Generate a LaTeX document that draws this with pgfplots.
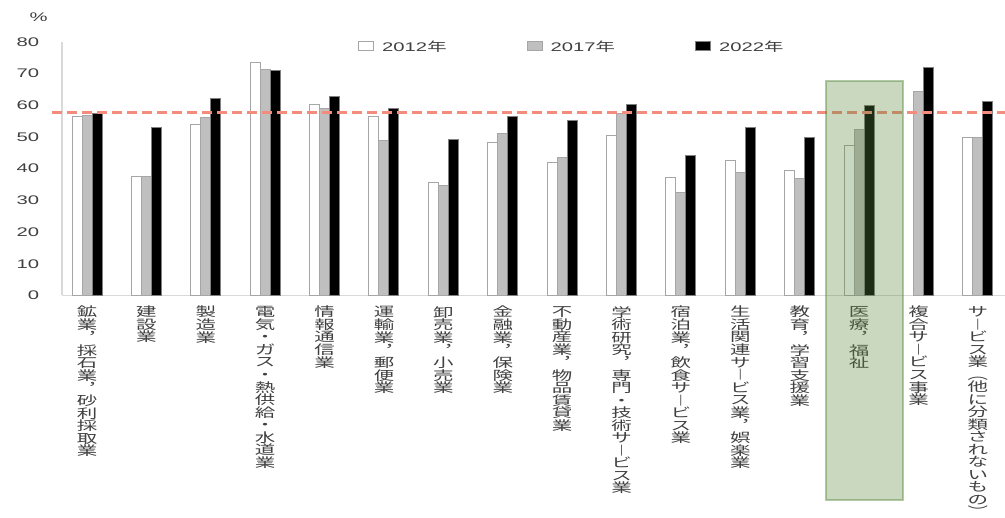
\documentclass[border=0pt]{standalone}
\usepackage{fontspec}
\usepackage{graphicx}
\usepackage{pgfplots}
\pgfplotsset{compat=1.18}
\setmainfont{Liberation Sans}[FakeStretch=1.62]
\newfontfamily\jp{Noto Sans CJK JP}
\definecolor{txt}{HTML}{404040}
\definecolor{axc}{HTML}{D9D9D9}
\definecolor{bord}{HTML}{A6A6A6}
\definecolor{gbar}{HTML}{BFBFBF}
\definecolor{avg}{RGB}{242,140,125}
\definecolor{hl}{RGB}{91,136,61}
\newcommand\numfont{\fontsize{12.5}{14}\selectfont}
\newcommand\catfont{\fontsize{12.8}{12.8}\jp}
\newcommand\nen{\scalebox{1.55}[1]{\jp 年}}
\makeatletter
\protected\def\vt#1{\vbox{\offinterlineskip\catfont\vt@loop#1\relax}}
\def\vt@loop#1{\ifx\relax#1\else\hbox to 22pt{\hss\vrule height 10.7pt depth 1.8pt width 0pt \scalebox{1.6}[1]{#1}\hss}\expandafter\vt@loop\fi}
\makeatother
\pgfplotsset{mylegend/.style={legend image code/.code={\draw[##1,line width=1pt] (0pt,-4pt) rectangle (15pt,5pt); \path (21pt,0pt);}}}
\pgfplotstableread{
x y
-0.589 57.7
15.455 57.7
}\avgtab
\begin{document}
\begin{tikzpicture}
\begin{axis}[
  at={(0,0)}, anchor=south west,
  scale only axis, width=943pt, height=253.8pt,
  xmin=-0.421, xmax=15.455, ymin=0, ymax=80,
  ybar=0pt, bar width=10pt,
  axis x line*=bottom, axis y line*=left,
  axis line style={axc, line width=1.2pt},
  major tick length=0pt,
  xtick={0,...,15},
  xticklabels={
    \vt{鉱業︐採石業︐砂利採取業},
    \vt{建設業},
    \vt{製造業},
    \vt{電気・ガス・熱供給・水道業},
    \vt{情報通信業},
    \vt{運輸業︐郵便業},
    \vt{卸売業︐小売業},
    \vt{金融業︐保険業},
    \vt{不動産業︐物品賃貸業},
    \vt{学術研究︐専門・技術サ︱ビス業},
    \vt{宿泊業︐飲食サ︱ビス業},
    \vt{生活関連サ︱ビス業︐娯楽業},
    \vt{教育︐学習支援業},
    \vt{医療︐福祉},
    \vt{複合サ︱ビス事業},
    \vt{サ︱ビス業︵他に分類されないもの︶}},
  xticklabel style={anchor=north, inner sep=0pt, yshift=-10.5pt, text=txt},
  ytick={0,10,...,80},
  yticklabel style={font=\numfont, text=txt, inner sep=0pt, anchor=east, xshift=-22.7pt},
  /pgf/number format/assume math mode=true,
  clip=false,
  legend columns=3,
  legend style={draw=none, fill=none, at={(0.3139,0.981)}, anchor=west, inner sep=0pt,
    font=\numfont, text=txt, /tikz/every even column/.append style={column sep=78pt}},
  legend cell align=left,
]
\addplot[fill=white, draw=bord, line width=1pt, mylegend] coordinates {
 (0,56.4) (1,37.6) (2,53.9) (3,73.4) (4,60.3) (5,56.4) (6,35.5) (7,48.2)
 (8,42.0) (9,50.3) (10,37.3) (11,42.6) (12,39.5) (13,47.2) (15,49.9)};
\addlegendentry{2012\nen}
\addplot[fill=gbar, draw=bord, line width=1pt, mylegend] coordinates {
 (0,56.7) (1,37.6) (2,56.0) (3,71.3) (4,58.8) (5,48.9) (6,34.6) (7,51.2)
 (8,43.5) (9,57.4) (10,32.5) (11,38.7) (12,36.8) (13,52.3) (14,64.3) (15,49.7)};
\addlegendentry{2017\nen}
\addplot[fill=black, draw=gray, line width=1pt, mylegend] coordinates {
 (0,57.4) (1,52.9) (2,62.1) (3,70.9) (4,62.7) (5,59.0) (6,49.2) (7,56.4)
 (8,55.3) (9,60.3) (10,44.0) (11,52.9) (12,49.7) (13,60.0) (14,72.0) (15,61.1)};
\addlegendentry{2022\nen}
\addplot[sharp plot, forget plot, avg, line width=3pt, dash pattern=on 10pt off 5pt] table[x=x,y=y] {\avgtab};
\draw[hl, line width=1.5pt, draw opacity=0.45, fill=hl, fill opacity=0.33] (axis cs:12.44,-64.5) rectangle (axis cs:13.737,67.6);
\node[font=\numfont, text=txt] at (axis description cs:-0.0247,1.0985) {\%};
\end{axis}
\pgfresetboundingbox
\path[use as bounding box] (-62pt,-222.5pt) rectangle (943pt,295.5pt);
\end{tikzpicture}
\end{document}
